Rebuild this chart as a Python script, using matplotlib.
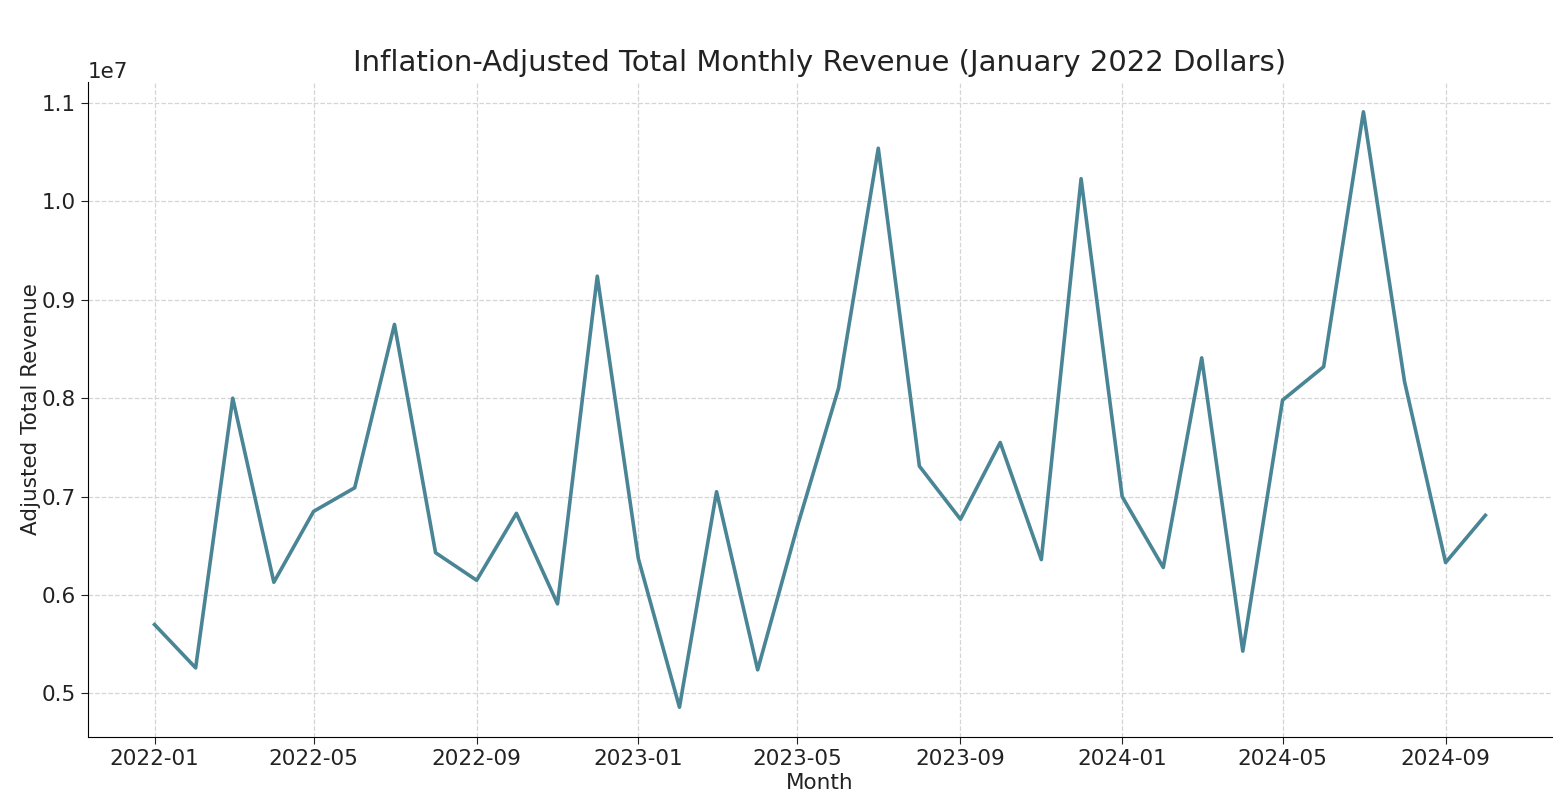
import numpy as np
import pandas as pd
import matplotlib
matplotlib.use('Agg')
import matplotlib.pyplot as plt
import matplotlib.dates as mdates

# --- Data (adjusted revenue, units of 1e7) ---
months = pd.date_range('2022-01-01', '2024-10-01', freq='MS')
revenue_1e7 = [
    0.570, 0.526, 0.800, 0.613, 0.685, 0.709, 0.875, 0.643, 0.615, 0.683, 0.591, 0.924,
    0.637, 0.486, 0.705, 0.524, 0.670, 0.810, 1.054, 0.731, 0.677, 0.755, 0.636, 1.023,
    0.700, 0.628, 0.841, 0.543, 0.798, 0.832, 1.091, 0.817, 0.633, 0.681,
]
revenue = np.array(revenue_1e7) * 1e7

# --- Plot ---
fig = plt.figure(figsize=(15.66, 8.06), dpi=100)
ax = fig.add_axes([0.0562, 0.0856, 0.9348, 0.8126])

ax.plot(months, revenue, color='#4a8596', linewidth=2.6)

ax.set_title('Inflation-Adjusted Total Monthly Revenue (January 2022 Dollars)',
             fontsize=21, color='#222222', pad=8)
ax.set_xlabel('Month', fontsize=15.5, color='#222222', labelpad=3)
ax.set_ylabel('Adjusted Total Revenue', fontsize=15.5, color='#222222', labelpad=1)

ax.xaxis.set_major_locator(mdates.MonthLocator(bymonth=[1, 5, 9]))
ax.xaxis.set_major_formatter(mdates.DateFormatter('%Y-%m'))
ax.tick_params(labelsize=15.5, colors='#222222', length=5)
ax.yaxis.get_offset_text().set_fontsize(15.5)

ax.grid(True, linestyle='--', color='#d5d5d5', linewidth=0.9)
ax.spines['top'].set_visible(False)
ax.spines['right'].set_visible(False)

fig.savefig('out.png', dpi=100)
